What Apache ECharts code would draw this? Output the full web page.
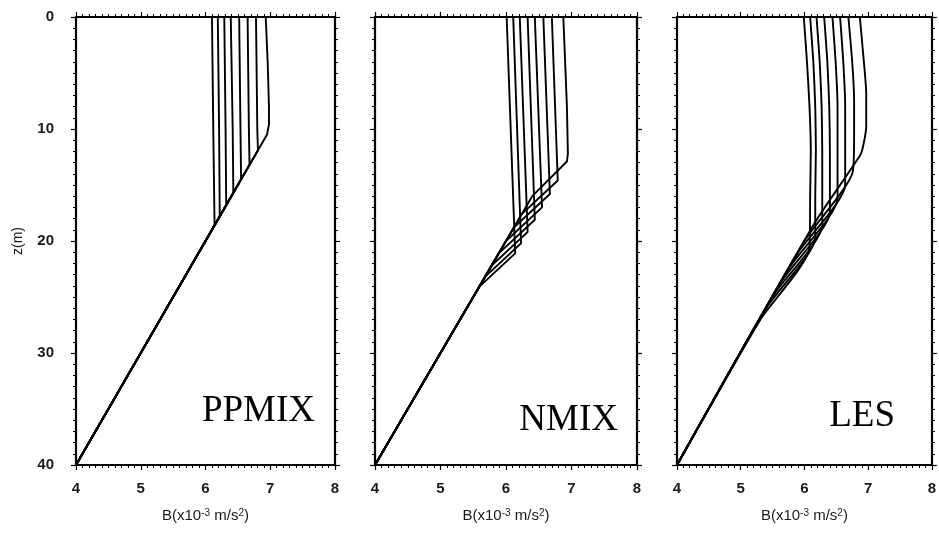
<!DOCTYPE html>
<html>
<head>
<meta charset="utf-8">
<script src="https://cdn.jsdelivr.net/npm/echarts@6/dist/echarts.min.js"></script>
<style>
  html, body { margin: 0; padding: 0; background: #fff; }
  #chart { width: 939px; height: 534px; }
</style>
</head>
<body>
<div id="chart"></div>
<script>
// Buoyancy profiles B(z) from three mixing schemes, eight times each.
// Each profile is a list of [B (x10^-3 m/s^2), depth z (m)] points.

const bTicks = [4, 5, 6, 7, 8];
const zTicks = [0, 10, 20, 30, 40];
const panelNames = ['PPMIX', 'NMIX', 'LES'];

const ppmixProfiles = [
  [[6.10, 0], [6.12, 10], [6.14, 18.6], [4.0, 40]],
  [[6.19, 0], [6.21, 10], [6.22, 17.8], [4.0, 40]],
  [[6.29, 0], [6.31, 10], [6.32, 16.8], [4.0, 40]],
  [[6.39, 0], [6.42, 10], [6.43, 15.7], [4.0, 40]],
  [[6.52, 0], [6.54, 10], [6.55, 14.5], [4.0, 40]],
  [[6.65, 0], [6.67, 10], [6.68, 13.2], [4.0, 40]],
  [[6.78, 0], [6.80, 10], [6.81, 11.9], [4.0, 40]],
  [[6.93, 0], [6.96, 4], [6.98, 8], [6.98, 9.6], [6.95, 10.5], [6.90, 11.0], [4.0, 40]]
];

const nmixProfiles = [
  [[6.01, 0], [6.14, 21.1], [5.59, 24.1], [4.0, 40]],
  [[6.11, 0], [6.23, 20.2], [5.68, 23.2], [4.0, 40]],
  [[6.21, 0], [6.33, 19.2], [5.78, 22.2], [4.0, 40]],
  [[6.33, 0], [6.44, 18.1], [5.89, 21.1], [4.0, 40]],
  [[6.44, 0], [6.55, 17.0], [6.00, 20.0], [4.0, 40]],
  [[6.57, 0], [6.67, 15.8], [6.12, 18.8], [4.0, 40]],
  [[6.70, 0], [6.79, 14.6], [6.24, 17.6], [4.0, 40]],
  [[6.875, 0], [6.93, 8], [6.945, 12.2], [6.93, 12.9], [6.40, 16.0], [4.0, 40]]
];

const lesProfiles = [
  [[5.99, 0], [6.04, 4], [6.08, 8], [6.10, 12], [6.09, 16], [6.08, 20.6], [5.31, 27.0], [4.0, 40]],
  [[6.09, 0], [6.14, 4], [6.17, 8], [6.18, 12], [6.17, 16], [6.17, 19.7], [5.41, 25.9], [4.0, 40]],
  [[6.19, 0], [6.24, 4], [6.27, 8], [6.28, 12], [6.28, 18.6], [5.52, 24.8], [4.0, 40]],
  [[6.31, 0], [6.36, 4], [6.39, 8], [6.40, 12], [6.40, 17.4], [5.64, 23.6], [4.0, 40]],
  [[6.44, 0], [6.49, 4], [6.52, 8], [6.52, 11], [6.52, 16.2], [5.76, 22.4], [4.0, 40]],
  [[6.56, 0], [6.61, 4], [6.64, 8], [6.64, 11], [6.64, 15.0], [5.88, 21.2], [4.0, 40]],
  [[6.69, 0], [6.75, 4], [6.78, 7.5], [6.78, 10.5], [6.76, 13.8], [6.00, 20.0], [4.0, 40]],
  [[6.87, 0], [6.93, 3.8], [6.97, 6.8], [6.97, 9.8], [6.93, 11.3], [6.88, 12.3], [6.16, 18.4], [4.0, 40]]
];

const panels = [ppmixProfiles, nmixProfiles, lesProfiles];

// ---- layout ----
const grids = [
  { left: 76, top: 17, width: 259, height: 448 },
  { left: 375, top: 17, width: 262, height: 448 },
  { left: 677, top: 17, width: 261, height: 448 }
];
const labelPos = [
  { x: 315, y: 411 },
  { x: 618, y: 420 },
  { x: 895, y: 416 }
];

const ink = '#000';
const sansFont = 'Liberation Sans, Arial, sans-serif';

function frameLine() {
  return { show: true, onZero: false, lineStyle: { color: ink, width: 2.2 } };
}
function majorTick() {
  return { show: true, inside: false, length: 5, lineStyle: { color: ink, width: 1.2 } };
}
function minorTick() {
  return { show: true, splitNumber: 10, length: 3, lineStyle: { color: ink, width: 1 } };
}

const xAxes = [];
const yAxes = [];
grids.forEach((g, i) => {
  xAxes.push({
    type: 'value', gridIndex: i, position: 'bottom',
    min: bTicks[0], max: bTicks[bTicks.length - 1], interval: 1,
    axisLine: frameLine(), axisTick: majorTick(), minorTick: minorTick(),
    splitLine: { show: false },
    axisLabel: { show: true, margin: 16, fontSize: 15, fontWeight: 'bold', color: '#1a1a1a', fontFamily: sansFont },
    name: 'B(x10{sup|-3} m/s{sup|2})',
    nameLocation: 'middle', nameGap: 43,
    nameTextStyle: {
      fontSize: 15, color: '#1a1a1a', fontFamily: sansFont,
      rich: { sup: { fontSize: 10, verticalAlign: 'top', lineHeight: 9, color: '#1a1a1a', fontFamily: sansFont } }
    }
  });
  xAxes.push({
    type: 'value', gridIndex: i, position: 'top',
    min: bTicks[0], max: bTicks[bTicks.length - 1], interval: 1,
    axisLine: frameLine(), axisTick: majorTick(), minorTick: minorTick(),
    splitLine: { show: false }, axisLabel: { show: false }
  });
  yAxes.push({
    type: 'value', gridIndex: i, position: 'left', inverse: true,
    min: zTicks[0], max: zTicks[zTicks.length - 1], interval: 10,
    axisLine: frameLine(), axisTick: majorTick(), minorTick: minorTick(),
    splitLine: { show: false },
    axisLabel: { show: i === 0, margin: 22, fontSize: 15, fontWeight: 'bold', color: '#1a1a1a', fontFamily: sansFont },
    name: i === 0 ? 'z(m)' : '',
    nameLocation: 'middle', nameGap: 51, nameRotate: 90,
    nameTextStyle: { fontSize: 14, color: '#1a1a1a', fontFamily: sansFont }
  });
  yAxes.push({
    type: 'value', gridIndex: i, position: 'right', inverse: true,
    min: zTicks[0], max: zTicks[zTicks.length - 1], interval: 10,
    axisLine: frameLine(), axisTick: majorTick(), minorTick: minorTick(),
    splitLine: { show: false }, axisLabel: { show: false }
  });
});

const series = [];
panels.forEach((profiles, i) => {
  profiles.forEach((pts) => {
    series.push({
      type: 'line',
      xAxisIndex: i * 2,
      yAxisIndex: i * 2,
      data: pts,
      showSymbol: false,
      symbol: 'none',
      smooth: i === 2 ? 0.2 : false,
      lineStyle: { color: ink, width: 1.9 },
      silent: true,
      clip: true
    });
  });
});

const graphic = panelNames.map((name, i) => ({
  type: 'text',
  x: labelPos[i].x,
  y: labelPos[i].y,
  style: {
    text: name,
    fill: '#000',
    font: '37px "Liberation Serif", "Times New Roman", serif',
    align: 'right',
    verticalAlign: 'middle'
  }
}));

const chart = echarts.init(document.getElementById('chart'), null, { renderer: 'canvas' });
chart.setOption({
  backgroundColor: '#fff',
  animation: false,
  grid: grids,
  xAxis: xAxes,
  yAxis: yAxes,
  series: series,
  graphic: graphic
});
</script>
</body>
</html>
